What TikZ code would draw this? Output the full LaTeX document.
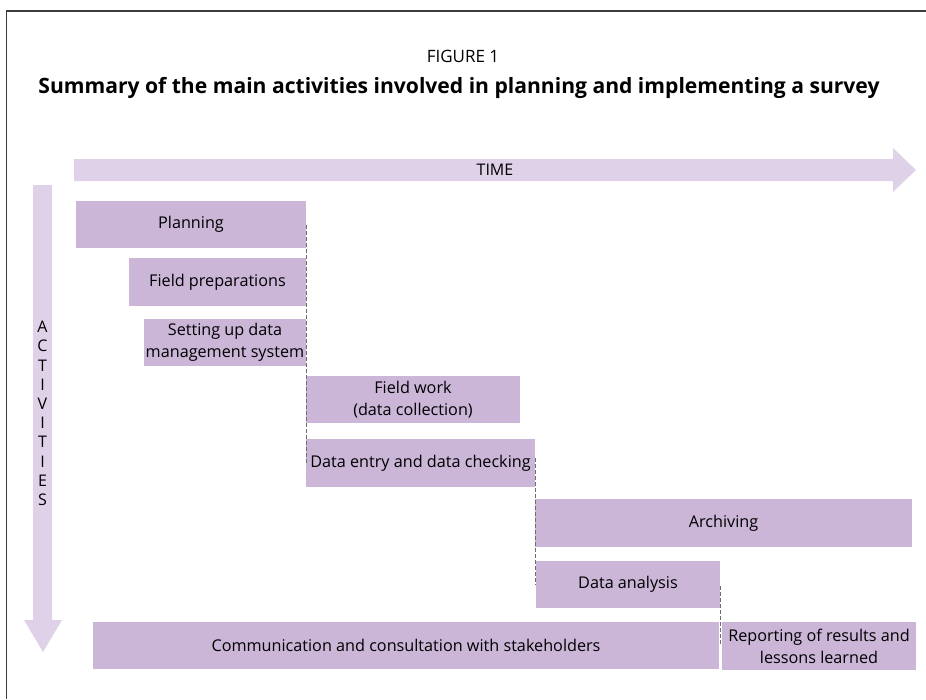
\documentclass[tikz,border=0pt]{standalone}
\usepackage{fontspec}
\setmainfont{Open Sans}
\definecolor{boxfill}{RGB}{203,182,216}
\definecolor{arrowfill}{RGB}{222,209,232}
\definecolor{framec}{RGB}{60,60,60}
\definecolor{dashc}{RGB}{110,110,110}
\begin{document}
\begin{tikzpicture}[x=1pt,y=-1pt,
  act/.style={fill=boxfill, draw=none, inner sep=0pt, align=center,
    font=\fontsize{16.2}{22}\selectfont, text=black},
  sep/.style={draw=dashc, dashed, dash pattern=on 4pt off 2pt, line width=0.9pt},
]
\useasboundingbox (0,0) rectangle (926,699);
% frame
\draw[framec, line width=1.5pt] (926,11) -- (6.5,11) -- (6.5,699);
% title
\node (fig) at (463,56) {\fontsize{17}{20}\selectfont FIGURE 1};
\node (title) at (459,88) {\fontsize{21.1}{24}\selectfont\bfseries Summary of the main activities involved in planning and implementing a survey};
% time arrow
\fill[arrowfill] (74,159) -- (893,159) -- (893,148) -- (916,170) -- (893,192) -- (893,181) -- (74,181) -- cycle;
\node (time) at (495,170) {\fontsize{16}{16}\selectfont TIME};
% activities arrow
\fill[arrowfill] (33,185) -- (52,185) -- (52,620) -- (62,620) -- (43,652) -- (24,620) -- (33,620) -- cycle;
\node[align=center, font=\fontsize{16}{19.2}\selectfont] (actlabel) at (42.5,413.5) {A\\C\\T\\I\\V\\I\\T\\I\\E\\S};
% activity boxes
\node[act, minimum width=230, minimum height=47] (plan) at (191,224.5) {Planning};
\node[act, minimum width=177, minimum height=48] (prep) at (217.5,282) {Field preparations};
\node[act, minimum width=162, minimum height=47] (dms) at (225,342.5) {Setting up data\\management system};
\node[act, minimum width=214, minimum height=47] (work) at (413,399.5) {Field work\\(data collection)};
\node[act, minimum width=229, minimum height=48] (entry) at (420.5,463) {Data entry and data checking};
\node[act, minimum width=377, minimum height=48] (arch) at (723.5,523) {Archiving};
\node[act, minimum width=184, minimum height=47] (anal) at (628,584.5) {Data analysis};
\node[act, minimum width=626, minimum height=47] (comm) at (406,645.5) {Communication and consultation with stakeholders};
\node[act, minimum width=194, minimum height=48] (rep) at (819,646) {Reporting of results and\\lessons learned};
% dashed separators
\draw[sep] (plan.east) -- (plan.east |- entry.west);
\draw[sep] ([yshift=5pt]entry.east) -- (entry.east |- anal.west);
\draw[sep] ([xshift=0.5pt,yshift=-1.5pt]anal.east) -- ([xshift=0.5pt]anal.east |- comm.east);
\end{tikzpicture}
\end{document}
